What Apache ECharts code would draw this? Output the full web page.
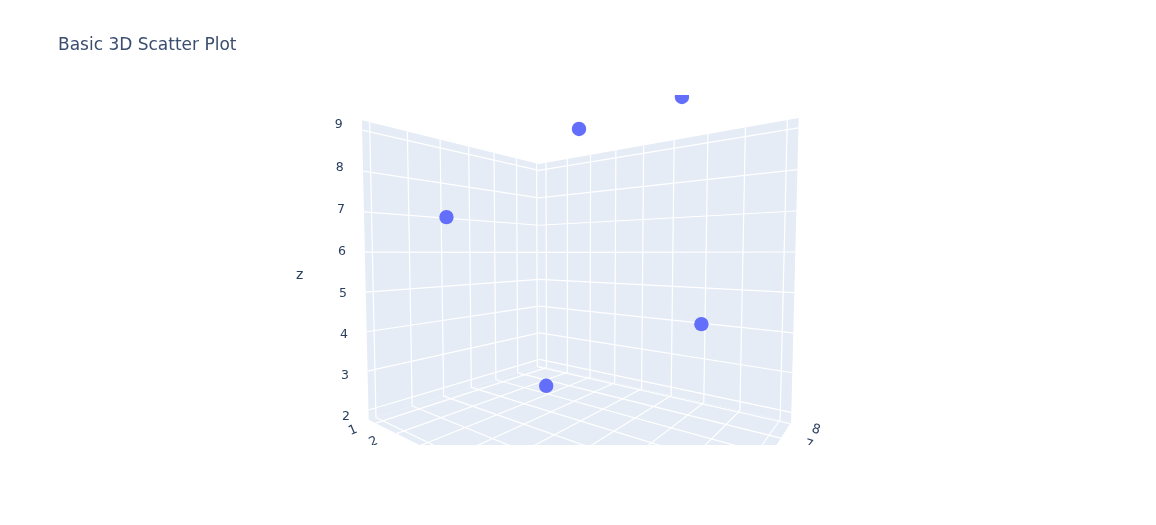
<!DOCTYPE html>
<html>
<head>
<meta charset="utf-8">
<title>Basic 3D Scatter Plot</title>
<script src="https://cdn.jsdelivr.net/npm/echarts@6/dist/echarts.min.js"></script>
<style>
  html, body { margin: 0; padding: 0; background: #fff; }
  #chart { width: 1156px; height: 525px; }
</style>
</head>
<body>
<div id="chart"></div>
<script>
const aValues = [1, 3, 5, 7, 9]
const bValues = [4, 6, 5, 8, 2]
const zValues = [7, 2, 9, 4, 8]
const aTicks = [1, 2, 3, 4, 5, 6, 7, 8, 9]
const bTicks = [2, 3, 4, 5, 6, 7, 8]
const zTicks = [2, 3, 4, 5, 6, 7, 8, 9]
const aRange = [0.647, 9.253]
const bRange = [1.814, 8.119]
const zRange = [1.748, 9.235]

// camera: back floor corner plus the vanishing point and depth rate of each axis
const origin = [539.5, 366]
const vanish = { s: [34.3, 253.1, -0.3324], q: [899.4, 252.8, -0.3219], h: [567.7, 9265, -0.0222] }

function project(a, b, z) {
  const s = (a - aRange[0]) / (aRange[1] - aRange[0])
  const q = (bRange[1] - b) / (bRange[1] - bRange[0])
  const h = (z - zRange[0]) / (zRange[1] - zRange[0])
  const w = 1 + vanish.s[2] * s + vanish.q[2] * q + vanish.h[2] * h
  return [
    (origin[0] + vanish.s[0] * vanish.s[2] * s + vanish.q[0] * vanish.q[2] * q + vanish.h[0] * vanish.h[2] * h) / w,
    (origin[1] + vanish.s[1] * vanish.s[2] * s + vanish.q[1] * vanish.q[2] * q + vanish.h[1] * vanish.h[2] * h) / w
  ]
}

const labelB = bRange[0] - 0.085 * (bRange[1] - bRange[0])
const labelA = aRange[1] + 0.066 * (aRange[1] - aRange[0])

const faces = [
  [[aRange[0], bRange[0], zRange[0]], [aRange[0], bRange[1], zRange[0]], [aRange[0], bRange[1], zRange[1]], [aRange[0], bRange[0], zRange[1]]],
  [[aRange[0], bRange[1], zRange[0]], [aRange[1], bRange[1], zRange[0]], [aRange[1], bRange[1], zRange[1]], [aRange[0], bRange[1], zRange[1]]],
  [[aRange[0], bRange[0], zRange[0]], [aRange[1], bRange[0], zRange[0]], [aRange[1], bRange[1], zRange[0]], [aRange[0], bRange[1], zRange[0]]]
]

const gridLines = []
zTicks.forEach(z => {
  gridLines.push([[aRange[0], bRange[0], z], [aRange[0], bRange[1], z]])
  gridLines.push([[aRange[0], bRange[1], z], [aRange[1], bRange[1], z]])
})
aTicks.forEach(a => {
  gridLines.push([[a, bRange[1], zRange[0]], [a, bRange[1], zRange[1]]])
  gridLines.push([[a, bRange[0], zRange[0]], [a, bRange[1], zRange[0]]])
})
bTicks.forEach(b => {
  gridLines.push([[aRange[0], b, zRange[0]], [aRange[0], b, zRange[1]]])
  gridLines.push([[aRange[0], b, zRange[0]], [aRange[1], b, zRange[0]]])
})

// last two entries are label rotation and size, floor labels lean with their axis
const tickLabels = [
  ...zTicks.map(z => [aRange[0], labelB, z, String(z), 0, 12.5]),
  ...aTicks.map(a => [a, labelB, zRange[0], String(a), 0.4, 13]),
  ...bTicks.map(b => [labelA, b, zRange[0], String(b), -0.3, 13])
]

const fontName = 'DejaVu Sans'

const chart = echarts.init(document.getElementById('chart'))
chart.setOption({
  animation: false,
  title: {
    text: 'Basic 3D Scatter Plot',
    left: 58,
    top: 37,
    padding: 0,
    textStyle: { fontFamily: fontName, fontSize: 17, fontWeight: 'normal', color: '#3a4d6e' }
  },
  grid: { left: 0, right: 0, top: 95, bottom: 80 },
  xAxis: { type: 'value', min: 0, max: 1156, show: false },
  yAxis: { type: 'value', min: 95, max: 445, inverse: true, show: false },
  graphic: [{
    type: 'text', left: 296, top: 268,
    style: { text: 'z', fontFamily: fontName, fontSize: 14, fill: '#2a3f5f' }
  }],
  series: [
    {
      type: 'custom',
      clip: true,
      silent: true,
      data: faces.map((f, i) => [i]),
      renderItem(params, api) {
        const pts = faces[api.value(0)].map(p => api.coord(project(p[0], p[1], p[2])))
        return { type: 'polygon', shape: { points: pts }, style: { fill: '#e5ecf6' } }
      }
    },
    {
      type: 'custom',
      clip: true,
      silent: true,
      data: gridLines.map((l, i) => [i]),
      renderItem(params, api) {
        const l = gridLines[api.value(0)]
        const p0 = api.coord(project(l[0][0], l[0][1], l[0][2]))
        const p1 = api.coord(project(l[1][0], l[1][1], l[1][2]))
        return {
          type: 'line',
          shape: { x1: p0[0], y1: p0[1], x2: p1[0], y2: p1[1] },
          style: { stroke: '#fff', lineWidth: 1.2 }
        }
      }
    },
    {
      type: 'custom',
      clip: true,
      silent: true,
      data: tickLabels.map((l, i) => [i]),
      renderItem(params, api) {
        const l = tickLabels[api.value(0)]
        const p = api.coord(project(l[0], l[1], l[2]))
        return {
          type: 'text',
          x: p[0],
          y: p[1],
          rotation: l[4],
          style: {
            text: l[3], align: 'center', verticalAlign: 'middle',
            fontFamily: fontName, fontSize: l[5], fill: '#2a3f5f'
          }
        }
      }
    },
    {
      // custom instead of scatter, the top marker has to be cut by the scene edge
      type: 'custom',
      clip: true,
      silent: true,
      data: aValues.map((a, i) => [a, bValues[i], zValues[i]]),
      renderItem(params, api) {
        const p = api.coord(project(api.value(0), api.value(1), api.value(2)))
        return {
          type: 'circle',
          shape: { cx: p[0] - 2, cy: p[1], r: 7.2 },
          style: { fill: '#636efa' }
        }
      }
    }
  ]
})
</script>
</body>
</html>
